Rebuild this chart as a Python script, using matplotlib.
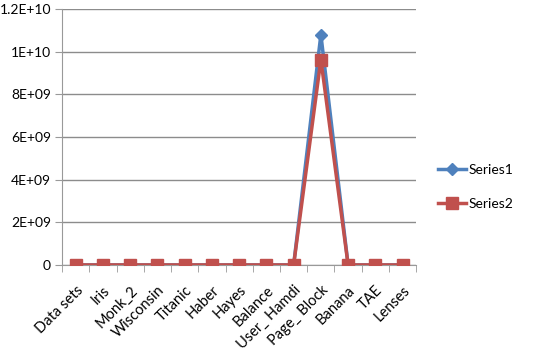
import matplotlib.pyplot as plt
from matplotlib.ticker import FixedLocator

# data
categories = ["Data sets", "Iris", "Monk_2", "Wisconsin", "Titanic", "Haber", "Hayes",
              "Balance", "User_ Hamdi", "Page_ Block", "Banana", "TAE", "Lenses"]
series1 = [0, 0, 0, 0, 0, 0, 0, 0, 0, 1.08e10, 0, 0, 0]
series2 = [0, 0, 0, 0, 0, 0, 0, 0, 0, 9.63e9, 0, 0, 0]
yticks = [0, 2e9, 4e9, 6e9, 8e9, 1e10, 1.2e10]
ytick_labels = ["0", "2E+09", "4E+09", "6E+09", "8E+09", "1E+10", "1.2E+10"]

plt.rcParams['font.family'] = ['Lato', 'DejaVu Sans']

fig = plt.figure(figsize=(5.35, 3.6), dpi=100)
ax = fig.add_axes([0.116, 0.264, 0.662, 0.711])

x = list(range(len(categories)))
ax.plot(x, series1, color="#4F81BD", lw=2.5, marker="D", ms=6, label="Series1", zorder=3)
ax.plot(x, series2, color="#C0504D", lw=2.5, marker="s", ms=9, label="Series2", zorder=4)

ax.set_xlim(-0.5, len(categories) - 0.5)
ax.set_ylim(0, 1.2e10)
ax.set_yticks(yticks)
ax.set_yticklabels(ytick_labels, fontsize=10)
ax.set_xticks(x)
ax.set_xticklabels(categories, rotation=45, ha="right", rotation_mode="anchor", fontsize=10.5)
ax.tick_params(axis="x", length=0, pad=13)
ax.xaxis.set_minor_locator(FixedLocator([i - 0.5 for i in range(len(categories) + 1)]))
ax.tick_params(axis="x", which="minor", length=5, color="#999999", direction="out")
ax.tick_params(axis="y", length=5, color="#999999", pad=3)

ax.grid(axis="y", color="#8c8c8c", lw=1)
ax.set_axisbelow(True)
for s in ["top", "right"]:
    ax.spines[s].set_visible(False)
for s in ["left", "bottom"]:
    ax.spines[s].set_color("#999999")

fig.legend(loc="center left", bbox_to_anchor=(0.795, 0.48), frameon=False, fontsize=10,
           handlelength=2.0, labelspacing=1.6, handletextpad=0.2)

fig.savefig("out.png", dpi=100)
